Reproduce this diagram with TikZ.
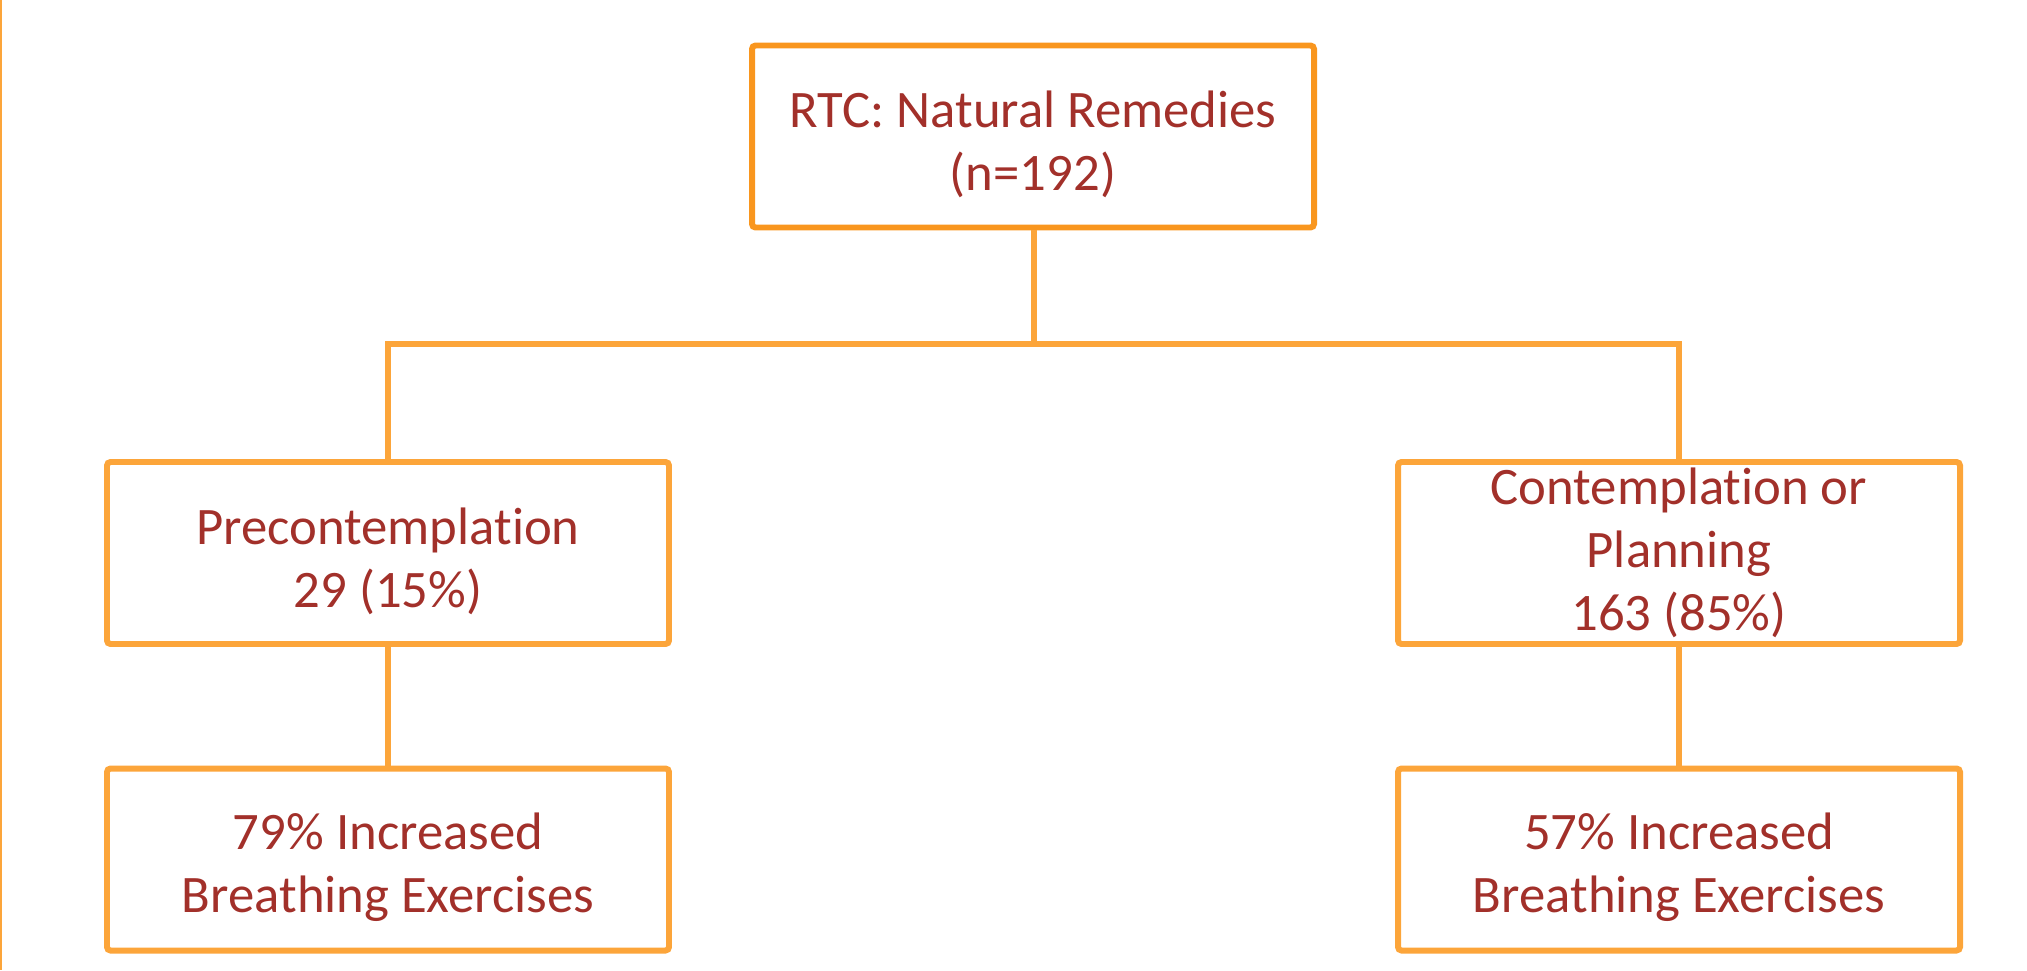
\documentclass[tikz,border=0pt]{standalone}
\usepackage{fontspec}
\setmainfont[Ligatures=NoCommon]{Carlito}
\usepackage{xcolor}
\usepackage{tikz}
\usetikzlibrary{positioning}

\definecolor{boxorange}{HTML}{FCA53A}
\definecolor{toporange}{HTML}{F9961E}
\definecolor{textred}{HTML}{A2302A}
\newcommand{\topgap}{\rule{0pt}{15pt}}

\begin{document}
\begin{tikzpicture}[
    stage/.style={draw=boxorange, line width=1.7pt, rectangle, rounded corners=1pt, minimum width=5.62cm, minimum height=1.82cm,
                  inner sep=0pt, align=center, text=textred, font=\fontsize{15}{18}\selectfont},
    link/.style={draw=boxorange, line width=1.7pt},
]
\useasboundingbox (0,0) rectangle (20.27,-9.70);
\draw[boxorange, line width=0.8pt] (0.01,0) -- (0.01,-9.70);

% Root
\node[stage, draw=toporange] (rtc) at (10.33, -1.365) {\topgap RTC: Natural Remedies\\(n=192)};

% Stages of change
\node[stage] (pre) at (3.88, -5.53) {\topgap Precontemplation\\29 (15\%)};
\node[stage] (con) at (16.79, -5.53) {Contemplation or\\Planning\\163 (85\%)};

% Outcomes
\node[stage] (preout) at (3.88, -8.595) {\topgap 79\% Increased\\Breathing Exercises};
\node[stage] (conout) at (16.79, -8.595) {\topgap 57\% Increased\\Breathing Exercises};

% Connectors
\coordinate (split) at (10.34, -3.44);
\draw[link] (rtc.south -| split) -- (split);
\draw[link] (pre.north) |- (split) -| (con.north);
\draw[link] (pre) -- (preout);
\draw[link] (con) -- (conout);
\end{tikzpicture}
\end{document}
